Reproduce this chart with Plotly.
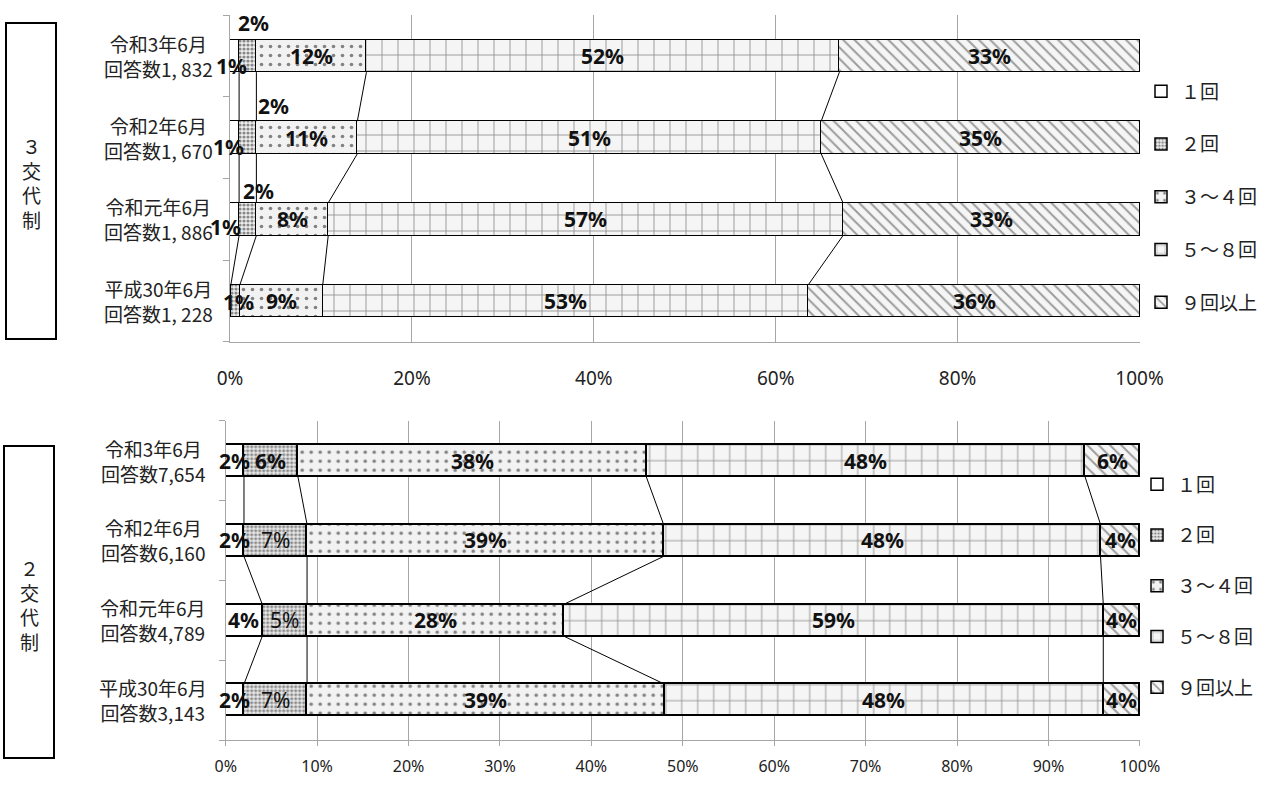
import plotly.graph_objects as go

W, H = 1270, 787

# ---------------- data ----------------
categories = ["令和3年6月", "令和2年6月", "令和元年6月", "平成30年6月"]
top_counts = ["回答数1, 832", "回答数1, 670", "回答数1, 886", "回答数1, 228"]
bot_counts = ["回答数7,654", "回答数6,160", "回答数4,789", "回答数3,143"]
series_names = ["１回", "２回", "３～４回", "５～８回", "９回以上"]

# 3交代制 (%)  rows: 令和3, 令和2, 令和元, 平成30
top_once = [1.0, 1.0, 1.0, 0.1]
top_twice = [1.9, 1.9, 1.9, 1.0]
top_3to4 = [12.1, 11.1, 7.9, 9.1]
top_5to8 = [52.0, 51.0, 56.6, 53.4]
top_9plus = [33.0, 35.0, 32.6, 36.4]

# 2交代制 (%)
bot_once = [2.0, 2.0, 4.0, 2.0]
bot_twice = [5.9, 6.9, 4.9, 6.9]
bot_3to4 = [38.1, 39.0, 28.1, 39.1]
bot_5to8 = [48.0, 47.8, 59.0, 48.0]
bot_9plus = [6.0, 4.3, 4.0, 4.0]

top_ticks = [0, 20, 40, 60, 80, 100]
top_tick_labels = ["0%", "20%", "40%", "60%", "80%", "100%"]
bot_ticks = [0, 10, 20, 30, 40, 50, 60, 70, 80, 90, 100]
bot_tick_labels = ["0%", "10%", "20%", "30%", "40%", "50%", "60%", "70%", "80%", "90%", "100%"]

panel_titles = ["３<br>交<br>代<br>制", "２<br>交<br>代<br>制"]

# ---------------- styles ----------------
patterns = [
    dict(shape="", bgcolor="white"),
    dict(shape=".", size=4, solidity=0.5, fgcolor="#222222", bgcolor="#eeeeee"),
    dict(shape=".", size=9, solidity=0.13, fgcolor="#111111", bgcolor="#f2f2f2"),
    dict(shape="+", size=16, solidity=0.11, fgcolor="#333333", bgcolor="#f5f5f5"),
    dict(shape="\\", size=8, solidity=0.25, fgcolor="#444444", bgcolor="#f5f5f5"),
]
GRID = "#a6a6a6"
LBL_FONT = dict(family="Noto Sans", size=21, color="#111111", weight="bold")
CJK = "Noto Sans CJK JP"

# label offsets (px) for labels Excel moved outside small segments
top_offsets = {(0, 0): (-3, -10), (1, 0): (6, 33), (0, 1): (-6, -9), (1, 1): (26, 32),
               (0, 2): (-9, -8), (1, 2): (11, 28), (1, 3): (3, -1)}
bot_offsets = {}
bot_regular = {(1, 1), (1, 2), (1, 3)}

top_series = [top_once, top_twice, top_3to4, top_5to8, top_9plus]
bot_series = [bot_once, bot_twice, bot_3to4, bot_5to8, bot_9plus]
rows = list(range(len(categories)))

fig = go.Figure()
annotations = []

panels = [
    dict(series=top_series, xa="x", ya="y", xr="x", yr="y", legend="legend", key="t",
         offsets=top_offsets, regular=set(), counts=top_counts, lab_x=158),
    dict(series=bot_series, xa="x2", ya="y2", xr="x2", yr="y2", legend="legend2", key="b",
         offsets=bot_offsets, regular=bot_regular, counts=bot_counts, lab_x=153),
]

for p in panels:
    series = p["series"]
    for j, (name, vals) in enumerate(zip(series_names, series)):
        fig.add_trace(go.Bar(
            y=rows, x=vals, orientation="h", name=name, width=0.4,
            marker=dict(color="white", line=dict(color="black", width=1.5), pattern=patterns[j]),
            xaxis=p["xa"], yaxis=p["ya"], legend=p["legend"], legendgroup=p["key"] + str(j),
            hoverinfo="skip", showlegend=True,
        ))
    # cumulative boundaries
    cums = []
    for i in rows:
        c, acc = [], 0.0
        for j in range(len(series)):
            acc += series[j][i]
            c.append(acc)
        cums.append(c)
    # connectors
    xs, ys = [], []
    for k in range(len(series) - 1):
        for i in rows[:-1]:
            xs += [cums[i][k], cums[i + 1][k], None]
            ys += [i + 0.2, i + 1 - 0.2, None]
    fig.add_trace(go.Scatter(x=xs, y=ys, mode="lines", line=dict(color="black", width=1),
                             xaxis=p["xa"], yaxis=p["ya"], showlegend=False, hoverinfo="skip"))
    # value labels
    for i in rows:
        start = 0.0
        for j in range(len(series)):
            v = series[j][i]
            if round(v) >= 1:
                dx, dy = p["offsets"].get((j, i), (0, 0))
                f = dict(LBL_FONT)
                if (j, i) in p["regular"]:
                    f["weight"] = "normal"
                annotations.append(dict(
                    x=start + v / 2, y=i, xref=p["xr"], yref=p["yr"], text=f"{round(v)}%",
                    showarrow=False, xshift=dx, yshift=dy, font=f,
                    xanchor="center", yanchor="middle"))
            start += v
    # category labels
    for i in rows:
        annotations.append(dict(
            x=p["lab_x"] / W, y=i, xref="paper", yref=p["yr"],
            text=categories[i] + "<br>" + p["counts"][i], showarrow=False,
            align="center", xanchor="center", yanchor="middle",
            font=dict(family=CJK, size=19, color="#222222")))

# left boxes
boxes = [(6, 56, 23, 339), (4, 54, 446, 758)]
shapes = []
for (x0, x1, y0, y1), title in zip(boxes, panel_titles):
    shapes.append(dict(type="rect", xref="paper", yref="paper",
                       x0=x0 / W, x1=x1 / W, y0=1 - y1 / H, y1=1 - y0 / H,
                       line=dict(color="black", width=2)))
    annotations.append(dict(x=(x0 + x1) / 2 / W, y=1 - ((y0 + y1) / 2 + 2) / H, xref="paper", yref="paper",
                            text=title, showarrow=False, align="center",
                            xanchor="center", yanchor="middle",
                            font=dict(family=CJK, size=19, color="#222222")))


def yaxis_cfg(domain):
    return dict(domain=domain, range=[3.5, -0.5], tickvals=rows, showticklabels=False, ticks="",
                showgrid=False, zeroline=False, showline=True, linecolor=GRID, linewidth=1,
                minor=dict(tickvals=[-0.5, 0.5, 1.5, 2.5, 3.5], ticks="outside", ticklen=6,
                           tickcolor=GRID, showgrid=False),
                fixedrange=True)


fig.update_layout(
    width=W, height=H, margin=dict(l=0, r=0, t=0, b=0, autoexpand=False),
    paper_bgcolor="white", plot_bgcolor="white",
    barmode="stack", bargap=0,
    xaxis=dict(domain=[230 / W, 1140 / W], range=[0, 100.05], tickvals=top_ticks, ticktext=top_tick_labels,
               showgrid=True, gridcolor=GRID, gridwidth=1, zeroline=False, showline=True,
               linecolor=GRID, ticks="", ticklabelstandoff=19, anchor="y",
               tickfont=dict(family="Noto Sans", size=19, color="#222222"), fixedrange=True),
    yaxis=dict(**yaxis_cfg([1 - 341.7 / H, 1 - 15 / H]), anchor="x"),
    xaxis2=dict(domain=[225.7 / W, 1140.3 / W], range=[0, 100.05], tickvals=bot_ticks, ticktext=bot_tick_labels,
                showgrid=True, gridcolor=GRID, gridwidth=1, zeroline=False, showline=True,
                linecolor=GRID, ticks="outside", ticklen=5, tickcolor=GRID, ticklabelstandoff=7,
                anchor="y2", tickfont=dict(family="Noto Sans", size=16, color="#222222"), fixedrange=True),
    yaxis2=dict(**yaxis_cfg([1 - 740 / H, 1 - 420.7 / H]), anchor="x2"),
    legend=dict(x=1141 / W, xanchor="left", y=1 - 72.5 / H, yanchor="top", traceorder="grouped",
                tracegroupgap=25, bgcolor="rgba(0,0,0,0)",
                font=dict(family=CJK, size=19, color="#222222")),
    legend2=dict(x=1137 / W, xanchor="left", y=1 - 465.5 / H, yanchor="top", traceorder="grouped",
                 tracegroupgap=23, bgcolor="rgba(0,0,0,0)",
                 font=dict(family=CJK, size=19, color="#222222")),
    annotations=annotations, shapes=shapes,
)

fig.write_html("out.html")
